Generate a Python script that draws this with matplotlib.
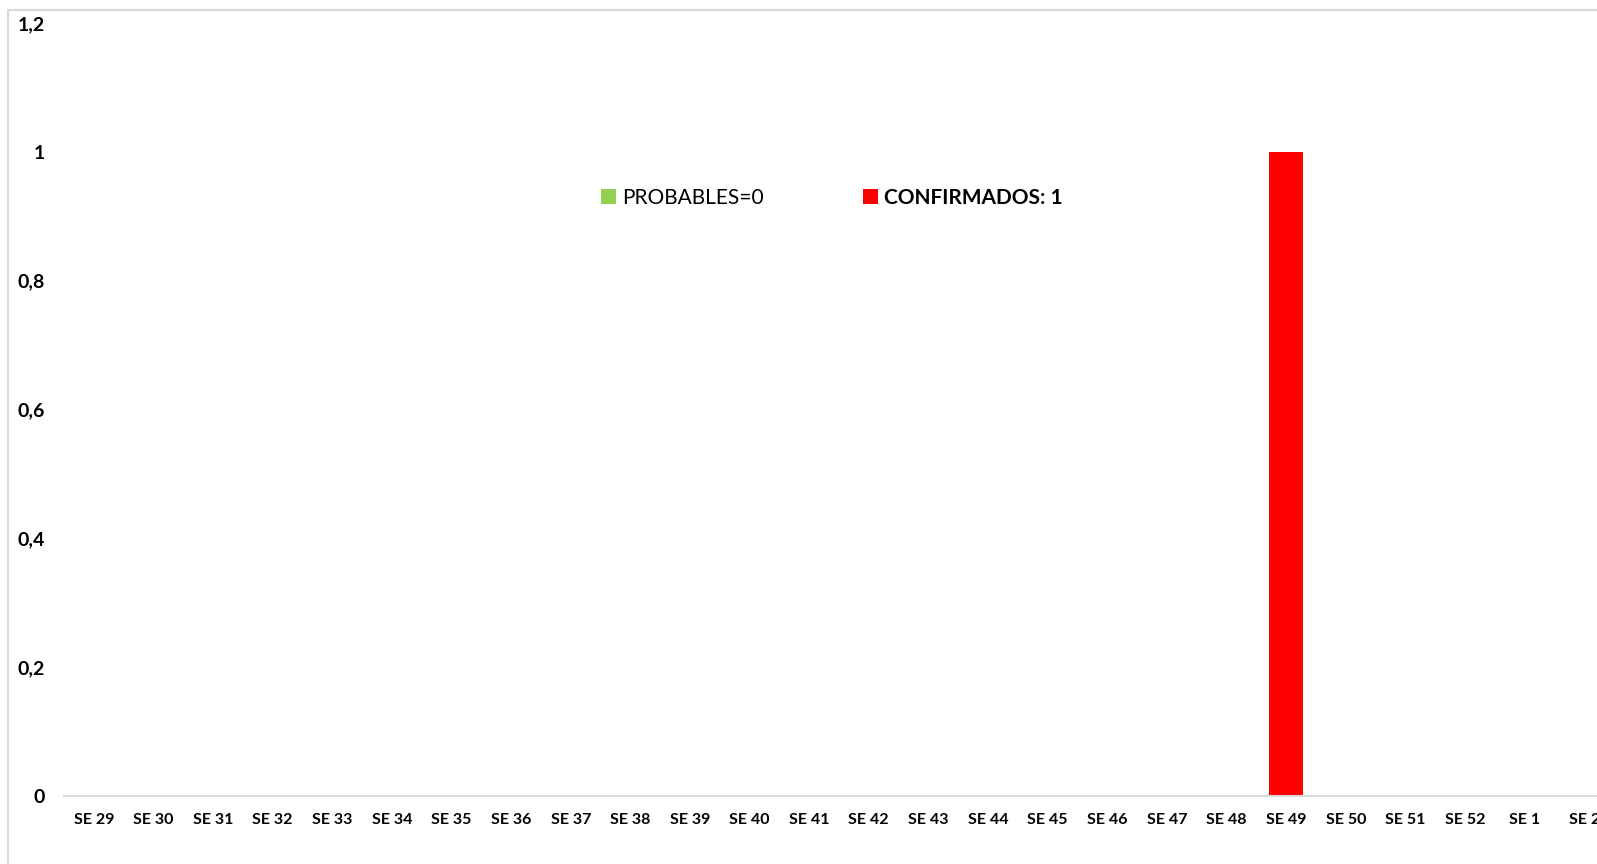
import matplotlib.pyplot as plt
from matplotlib.patches import Rectangle
import numpy as np

plt.rcParams['font.family'] = ['Lato', 'DejaVu Sans']

# epidemiological weeks
semanas = ["SE 29", "SE 30", "SE 31", "SE 32", "SE 33", "SE 34", "SE 35", "SE 36",
           "SE 37", "SE 38", "SE 39", "SE 40", "SE 41", "SE 42", "SE 43", "SE 44",
           "SE 45", "SE 46", "SE 47", "SE 48", "SE 49", "SE 50", "SE 51", "SE 52",
           "SE 1", "SE 2"]
probables = [0] * 26
confirmados = [0, 0, 0, 0, 0, 0, 0, 0, 0, 0, 0, 0, 0, 0, 0, 0,
               0, 0, 0, 0, 1, 0, 0, 0, 0, 0]
y_ticks = [0, 0.2, 0.4, 0.6, 0.8, 1, 1.2]
y_labels = ["0", "0,2", "0,4", "0,6", "0,8", "1", "1,2"]

W, H = 1597, 864
fig = plt.figure(figsize=(W / 100, H / 100), dpi=100)

# axes in pixel coords: left 64, right 1614 (beyond figure), bottom 796, top 23
left, right, bottom, top = 64, 1614, 796, 23
ax = fig.add_axes([left / W, (H - bottom) / H, (right - left) / W, (bottom - top) / H])

# chart border (extends past the image)
fig.patches.append(Rectangle((8 / W, -0.1), 1.2, (H - 10) / H + 0.1,
                             transform=fig.transFigure, fill=False,
                             edgecolor="#d9d9d9", linewidth=1.5))

x = np.arange(len(semanas))
b1 = ax.bar(x, probables, width=0.57, color="#92d050", label="PROBABLES=0")
b2 = ax.bar(x, confirmados, width=0.57, color="#ff0000", label="CONFIRMADOS: 1")

ax.set_xlim(-0.5, len(semanas) - 0.5)
ax.set_ylim(0, 1.2)
ax.set_xticks(x)
ax.set_xticklabels(semanas, fontsize=11.5, fontweight="bold")
ax.set_yticks(y_ticks)
ax.set_yticklabels(y_labels, fontsize=14, fontweight="bold")
ax.tick_params(axis="both", length=0)
ax.tick_params(axis="x", pad=12)
ax.tick_params(axis="y", pad=14)

for s in ["top", "right", "left"]:
    ax.spines[s].set_visible(False)
ax.spines["bottom"].set_color("#d9d9d9")
ax.spines["bottom"].set_linewidth(1.5)

leg = ax.legend(ncol=2, loc="center left",
                bbox_to_anchor=(601 / W, (H - 198) / H),
                bbox_transform=fig.transFigure,
                frameon=False, fontsize=15, handlelength=0.7, handleheight=0.7,
                handletextpad=0.3, columnspacing=4.8, borderpad=0, borderaxespad=0)
leg.get_texts()[1].set_fontweight("bold")

fig.savefig("out.png", dpi=100)
